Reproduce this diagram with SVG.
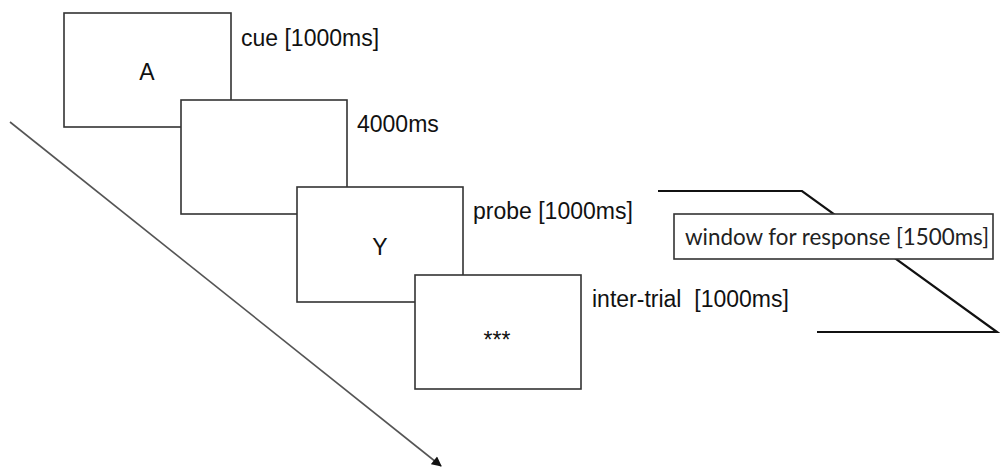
<svg xmlns="http://www.w3.org/2000/svg" width="1000" height="467" viewBox="0 0 1000 467">
  <style>
    .frame { fill: #ffffff; stroke: #333333; stroke-width: 1.6; }
    .label { font-family: "Liberation Sans", Arial, sans-serif; font-size: 23px; fill: #111111; }
    .glyph { font-family: "Liberation Sans", Arial, sans-serif; font-size: 23px; fill: #111111; text-anchor: middle; }
    .bracket { fill: none; stroke: #111111; stroke-width: 2.2; }
    .timeline { fill: none; stroke: #555555; stroke-width: 1.6; }
    .window { font-family: Lato, "Open Sans", sans-serif; font-size: 23px; fill: #222222; }
  </style>
  <defs>
    <marker id="head" viewBox="0 0 10 10" refX="9" refY="5" markerWidth="11" markerHeight="10" orient="auto" markerUnits="userSpaceOnUse">
      <path d="M0,0 L10,5 L0,10 z" fill="#111111"/>
    </marker>
  </defs>
  <rect width="1000" height="467" fill="#ffffff"/>

  <!-- connectors: time axis and response-window bracket -->
  <g id="connectors">
    <line class="timeline" x1="10" y1="122" x2="441" y2="466" marker-end="url(#head)"/>
    <polyline class="bracket" points="658,191 802,191 997,332 817,332"/>
  </g>

  <g id="cue">
    <rect class="frame" x="64" y="13" width="167" height="114"/>
    <text class="glyph" x="147" y="80">A</text>
    <text class="label" x="241" y="46">cue [1000ms]</text>
  </g>

  <g id="delay">
    <rect class="frame" x="181" y="100" width="166" height="114"/>
    <text class="label" x="357" y="132">4000ms</text>
  </g>

  <g id="probe">
    <rect class="frame" x="297" y="187" width="166" height="115"/>
    <text class="glyph" x="380" y="255">Y</text>
    <text class="label" x="473" y="219">probe [1000ms]</text>
  </g>

  <g id="intertrial">
    <rect class="frame" x="415" y="275" width="166" height="114"/>
    <text class="glyph" x="497" y="348">***</text>
    <text class="label" x="592" y="307" xml:space="preserve">inter-trial  [1000ms]</text>
  </g>

  <g id="response-window">
    <rect class="frame" x="674" y="214" width="319" height="45"/>
    <text class="window" x="685" y="245" textLength="304" lengthAdjust="spacingAndGlyphs">window for response [1500ms]</text>
  </g>
</svg>
